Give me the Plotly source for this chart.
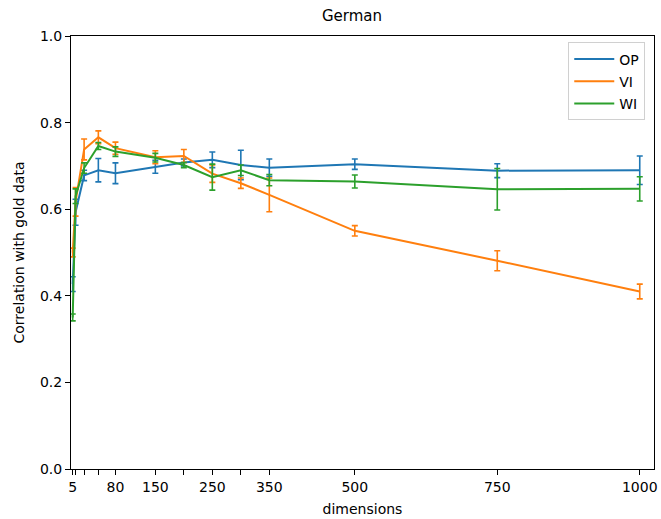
import plotly.graph_objects as go

dims = [5, 10, 25, 50, 80, 150, 200, 250, 300, 350, 500, 750, 1000]
tick_labels = ["5", "", "", "", "80", "150", "", "250", "", "350", "500", "750", "1000"]

op_mean = [0.427, 0.593, 0.678, 0.690, 0.683, 0.698, 0.708, 0.714, 0.702, 0.696, 0.704, 0.689, 0.690]
op_err = [0.017, 0.030, 0.012, 0.027, 0.024, 0.015, 0.008, 0.018, 0.034, 0.020, 0.012, 0.016, 0.033]

vi_mean = [0.500, 0.617, 0.738, 0.766, 0.741, 0.720, 0.723, 0.682, 0.660, 0.633, 0.550, 0.481, 0.410]
vi_err = [0.010, 0.033, 0.024, 0.015, 0.014, 0.015, 0.015, 0.020, 0.012, 0.039, 0.012, 0.023, 0.017]

wi_mean = [0.350, 0.630, 0.695, 0.746, 0.733, 0.719, 0.702, 0.674, 0.690, 0.667, 0.664, 0.646, 0.647]
wi_err = [0.008, 0.017, 0.012, 0.008, 0.011, 0.010, 0.006, 0.030, 0.012, 0.013, 0.015, 0.048, 0.028]

series = [("OP", op_mean, op_err, "#1f77b4"),
          ("VI", vi_mean, vi_err, "#ff7f0e"),
          ("WI", wi_mean, wi_err, "#2ca02c")]

fig = go.Figure()
for name, m, e, c in series:
    fig.add_trace(go.Scatter(
        x=dims, y=m, name=name, mode="lines", legendgroup=name,
        line=dict(color=c, width=2),
        error_y=dict(type="data", array=e, visible=True, color=c, thickness=1.6, width=3),
    ))

font = dict(family="DejaVu Sans", size=14, color="black")
fig.update_layout(
    width=661, height=519,
    paper_bgcolor="white", plot_bgcolor="white",
    margin=dict(l=71, r=7, t=36, b=50, autoexpand=False),
    font=font,
    title=dict(text="German", x=0.482, xref="paper", xanchor="center",
               y=1, yref="container", yanchor="top", pad=dict(t=10),
               font=dict(family="DejaVu Sans", size=15, color="black")),
    showlegend=True,
    hovermode=False,
    legend=dict(x=0.985, y=0.985, xanchor="right", yanchor="top",
                bgcolor="rgba(255,255,255,0.8)", bordercolor="#d0d0d0", borderwidth=1,
                font=dict(family="DejaVu Sans", size=14, color="black"),
                itemwidth=40, tracegroupgap=1),
)
fig.update_xaxes(
    range=[2, 1025], tickmode="array", tickvals=dims, ticktext=tick_labels,
    showline=True, linecolor="black", linewidth=1, mirror=True,
    ticks="outside", ticklen=5, tickcolor="black", showgrid=False, zeroline=False,
    title=dict(text="dimensions", standoff=10, font=font),
)
fig.update_yaxes(
    range=[0, 1], tickmode="array", tickvals=[0, 0.2, 0.4, 0.6, 0.8, 1.0],
    ticktext=["0.0", "0.2", "0.4", "0.6", "0.8", "1.0"],
    showline=True, linecolor="black", linewidth=1, mirror=True,
    ticks="outside", ticklen=5, tickcolor="black", showgrid=False, zeroline=False,
    title=dict(text="Correlation with gold data", standoff=12, font=font),
)

fig.write_html("out.html", config={"displayModeBar": False, "staticPlot": True},
               post_script="document.body.style.margin='0px';document.body.style.overflow='hidden';")
